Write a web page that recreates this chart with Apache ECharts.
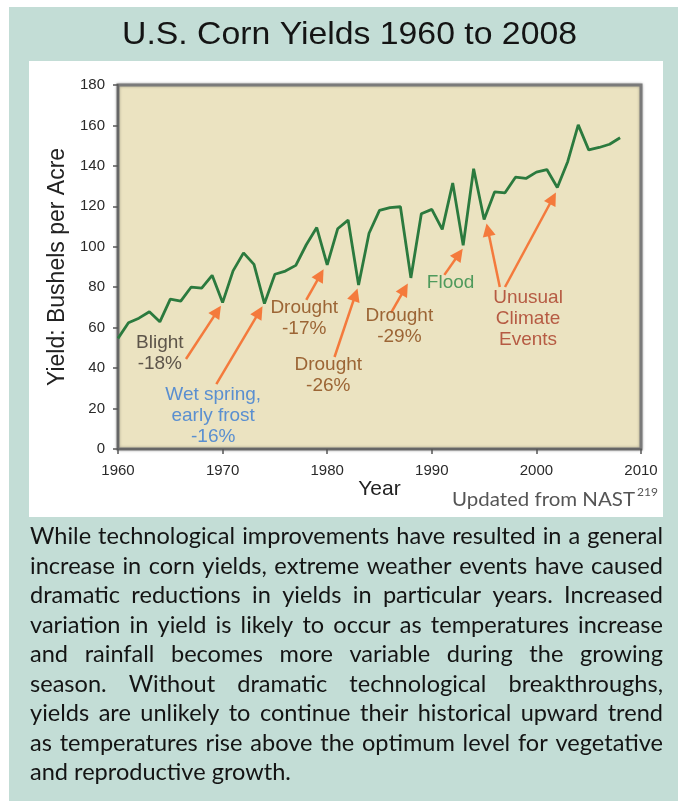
<!DOCTYPE html>
<html>
<head>
<meta charset="utf-8">
<script src="https://cdn.jsdelivr.net/npm/echarts@6/dist/echarts.min.js"></script>
<style>html,body{margin:0;padding:0;background:#fff}#c{width:678px;height:801px}</style>
</head>
<body>
<div id="c"></div>
<script>
// ---------- data ----------
const years = [1960,1961,1962,1963,1964,1965,1966,1967,1968,1969,
               1970,1971,1972,1973,1974,1975,1976,1977,1978,1979,
               1980,1981,1982,1983,1984,1985,1986,1987,1988,1989,
               1990,1991,1992,1993,1994,1995,1996,1997,1998,1999,
               2000,2001,2002,2003,2004,2005,2006,2007,2008];
const yields = [54.7,62.4,64.7,67.9,62.9,74.1,73.1,80.1,79.5,85.9,
                72.4,88.1,97.0,91.3,71.9,86.4,88.0,90.8,101.0,109.5,
                91.0,108.9,113.2,81.1,106.7,118.0,119.4,119.8,84.6,116.3,
                118.5,108.6,131.5,100.7,138.6,113.5,127.1,126.7,134.4,133.8,
                136.9,138.2,129.3,142.2,160.3,147.9,149.1,150.7,153.9];
const xTicks = [1960,1970,1980,1990,2000,2010];
const yTicks = [0,20,40,60,80,100,120,140,160,180];
const titleText = 'U.S. Corn Yields 1960 to 2008';
const xName = 'Year';
const yName = 'Yield: Bushels per Acre';
const noteTexts = ['Blight\n-18%','Wet spring,\nearly frost\n-16%','Drought\n-17%','Drought\n-26%','Drought\n-29%','Flood','Unusual\nClimate\nEvents'];
const sourceText = 'Updated from NAST';
const sourceSup = '219';
const paragraphLines = [
  'While technological improvements have resulted in a general',
  'increase in corn yields, extreme weather events have caused',
  'dramatic reductions in yields in particular years. Increased',
  'variation in yield is likely to occur as temperatures increase',
  'and rainfall becomes more variable during the growing',
  'season. Without dramatic technological breakthroughs,',
  'yields are unlikely to continue their historical upward trend',
  'as temperatures rise above the optimum level for vegetative',
  'and reproductive growth.'
];

// ---------- annotation layout (data coordinates) ----------
const noteLayout = [
  {at:[1964.0,47.5], color:'#5d554a'},
  {at:[1969.1,16.3], color:'#5a8fd0'},
  {at:[1977.8,64.8], color:'#9c6535'},
  {at:[1980.1,36.6], color:'#9c6535'},
  {at:[1986.9,60.8], color:'#9c6535'},
  {at:[1991.8,82.1], color:'#4f9a5c'},
  {at:[1999.2,64.3], color:'#b65b43'}
];
const arrowLayout = [
  [[1966.5,44.5],[1969.5,68.2]],
  [[1969.4,32.1],[1973.5,67.8]],
  [[1978.0,73.7],[1979.35,86.1]],
  [[1980.7,45.5],[1982.7,76.3]],
  [[1986.1,67.3],[1987.4,79.1]],
  [[1991.2,86.1],[1992.6,96.4]],
  [[1996.5,80.1],[1995.36,108.4]],
  [[1997.0,80.1],[2001.57,124.0]]
];

// ---------- helpers ----------
const mctx = document.createElement('canvas').getContext('2d');
function tw(t, font){ mctx.font = font; return mctx.measureText(t).width; }
function txt(x, y, text, font, fill, sx, align){
  return {type:'text', x:x, y:y, scaleX:sx||1, z:50, silent:true,
    style:{text:text, font:font, fill:fill, textAlign:align||'left', align:align||'left',
           textVerticalAlign:'middle', verticalAlign:'middle'}};
}

const graphics = [];
graphics.push({type:'rect', z:-20, silent:true, shape:{x:9,y:7,width:669,height:794}, style:{fill:'#c3ddd6'}});
graphics.push({type:'rect', z:-19, silent:true, shape:{x:29,y:61,width:634,height:456}, style:{fill:'#ffffff'}});

// title
const titleFont = '32px "Liberation Sans", Arial, sans-serif';
graphics.push(txt(122, 35, titleText, titleFont, '#141414', 455/tw(titleText, titleFont)));

// source note
const srcFont = '19px Lato, sans-serif';
const srcW = tw(sourceText, srcFont);
graphics.push(txt(452, 500, sourceText, srcFont, '#555555', 183/srcW));
graphics.push(txt(637, 492, sourceSup, '12px Lato, sans-serif', '#555555', 1));

// paragraph, justified
const pFont = '23px Lato, sans-serif';
const pLeft = 30, pRight = 663, pTop = 537, pLH = 29.5;
let maxNat = 0;
paragraphLines.forEach(l => { maxNat = Math.max(maxNat, tw(l, pFont)); });
const psx = 626 / maxNat;
paragraphLines.forEach((line, i) => {
  const words = line.split(' ');
  const ww = words.map(w => tw(w, pFont) * psx);
  const total = ww.reduce((a, b) => a + b, 0);
  const last = i === paragraphLines.length - 1;
  const gap = last ? tw(' ', pFont) * psx : (pRight - pLeft - total) / (words.length - 1);
  let x = pLeft;
  words.forEach((w, j) => {
    graphics.push(txt(x, pTop + i * pLH, w, pFont, '#141414', psx));
    x += ww[j] + gap;
  });
});

const axisFont = '"Liberation Sans", Arial, sans-serif';
const chart = echarts.init(document.getElementById('c'), null, {renderer:'canvas', width:678, height:801});
chart.setOption({
  animation: false,
  backgroundColor: '#ffffff',
  grid: {left:118, right:37, top:85, bottom:352, show:true,
         backgroundColor:'#ebe3c1', borderColor:'#7a7a7a', borderWidth:3,
         shadowColor:'rgba(0,0,0,0.3)', shadowBlur:3},
  xAxis: {
    type:'value', min:xTicks[0], max:xTicks[xTicks.length-1], interval:10,
    name:xName, nameLocation:'middle', nameGap:30,
    nameTextStyle:{fontSize:21, color:'#222', fontFamily:axisFont},
    axisLine:{show:true, lineStyle:{color:'#666', width:2}},
    axisTick:{show:true, length:5, lineStyle:{color:'#555', width:1.5}},
    axisLabel:{margin:14, fontSize:15, color:'#2a2a2a', fontFamily:axisFont, formatter: v => String(v)},
    splitLine:{show:false}
  },
  yAxis: {
    type:'value', min:yTicks[0], max:yTicks[yTicks.length-1], interval:20,
    name:yName, nameLocation:'middle', nameGap:45,
    nameTextStyle:{fontSize:23, color:'#222', fontFamily:axisFont},
    axisLine:{show:true, lineStyle:{color:'#666', width:2}},
    axisTick:{show:true, length:5, lineStyle:{color:'#555', width:1.5}},
    axisLabel:{margin:13, fontSize:15, color:'#2a2a2a', fontFamily:axisFont, formatter: v => String(v)},
    splitLine:{show:false}
  },
  series: [{
    type:'line', data: years.map((y, i) => [y, yields[i]]),
    symbol:'none', lineStyle:{color:'#2b7a3e', width:2.8}, z:3,
    markLine: {
      silent:true, animation:false, symbol:['none','triangle'], symbolSize:13,
      label:{show:false}, lineStyle:{color:'#f47a3c', width:2.5, type:'solid'},
      data: arrowLayout.map(a => [{coord:a[0]}, {coord:a[1]}])
    },
    markPoint: {
      silent:true, animation:false, symbol:'circle', symbolSize:1,
      itemStyle:{color:'rgba(0,0,0,0)'},
      data: noteTexts.map((t, i) => ({
        coord: noteLayout[i].at, value: 0,
        label:{show:true, position:'inside', formatter:t, color:noteLayout[i].color,
               fontSize:19, lineHeight:21, fontFamily:axisFont, align:'center'}
      }))
    }
  }],
  graphic: graphics
});
</script>
</body>
</html>
